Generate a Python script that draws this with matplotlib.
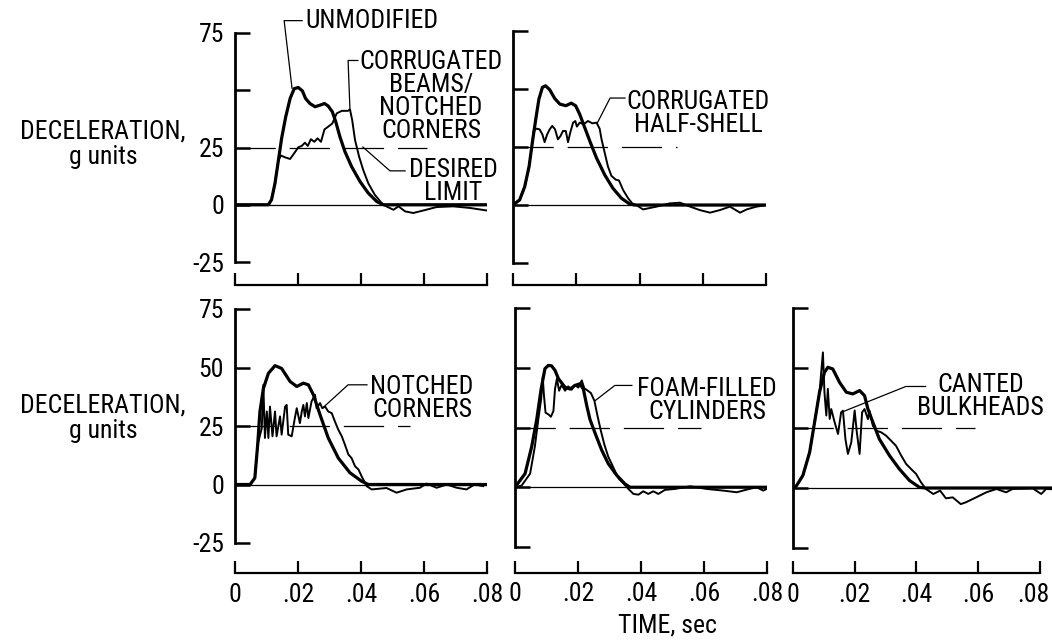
import matplotlib
matplotlib.use('Agg')
import matplotlib.pyplot as plt
from matplotlib.transforms import ScaledTranslation

plt.rcParams['font.family'] = ['Roboto Condensed', 'DejaVu Sans Condensed', 'Liberation Sans Narrow', 'DejaVu Sans']
plt.rcParams['lines.scale_dashes'] = False

FONT_SIZE = 18.5

DESIRED_LIMIT = 25
Y_TICKS = [-25, 0, 25, 50, 75]
TOP_Y_LABELS = ['-25', '0', '25', '', '75']
BOTTOM_Y_LABELS = ['-25', '0', '25', '50', '75']
X_TICKS = [0, 0.02, 0.04, 0.06, 0.08]
X_TICK_LABELS = ['0', '.02', '.04', '.06', '.08']

# panel 1: unmodified vs corrugated beams / notched corners
p1_unmod_t = [0, .0106, .0116, .0127, .0138, .0148, .0161, .0175, .0188, .0201, .0214, .0224, .0238, .0254,
              .027, .0284, .0296, .0309, .032, .0333, .0349, .037, .0397, .0423, .045, .0471, .08]
p1_unmod_g = [0, 0, 2.2, 9.4, 19.6, 29, 38.4, 46.4, 50.7, 51.2, 49.7, 46.4, 44.2, 42.8,
              43.5, 44.2, 43.1, 40.6, 36.2, 29.7, 23.2, 16.7, 10.1, 5.1, 1.4, 0, 0]
p1_mod_t = [0, .0106, .0116, .0127, .0138, .0146, .0159, .0175, .0188, .0201, .0212, .0222, .0231, .0241,
            .0252, .0262, .0273, .0284, .0296, .0309, .0323, .0339, .0358, .0365, .0372, .0381, .0394,
            .0407, .0423, .0444, .0466, .0476, .0503, .0519, .054, .0566, .0598, .064, .0693, .0746, .0799]
p1_mod_g = [0, 0, 2.2, 9.4, 19.6, 21.5, 20.7, 20.0, 22.5, 25.1, 25.7, 27.1, 25.7, 28.6,
            27.5, 29, 27.5, 32.9, 34.1, 35.5, 39.9, 41, 41, 41.6, 37, 28.3, 21,
            15.2, 9.4, 4.3, 0.7, -0.4, -2.2, -0.7, -2.9, -3.6, -2.5, -1, -0.7, -1.4, -2.5]

# panel 2: corrugated half-shell
p2_unmod_t = [0, .0021, .0037, .0051, .0061, .0072, .0082, .0093, .0103, .0116, .0132, .0148, .0167,
              .0184, .0198, .0211, .0227, .0245, .0264, .029, .0316, .0343, .0369, .0385, .08]
p2_unmod_g = [0, 2.2, 7.9, 16.7, 26.8, 37, 45.7, 50.7, 51.4, 49.7, 45.9, 43.5, 42.8,
              43.9, 42.8, 39.1, 33.3, 26.8, 20.3, 13, 7.2, 2.9, 0.4, 0, 0]
p2_mod_t = [0, .0021, .0037, .0051, .0061, .0065, .0074, .0084, .0093, .01, .0108, .0116, .0124, .0133,
            .0142, .015, .0158, .0167, .0174, .0181, .019, .0197, .0202, .0211, .0223, .0237, .0251,
            .0264, .0274, .028, .029, .03, .0311, .0325, .0335, .0348, .0364, .0377, .039, .0411,
            .0454, .0496, .0528, .056, .0591, .0623, .0654, .0686, .0718, .0739, .077, .0802]
p2_mod_g = [0, 2.2, 7.9, 16.7, 26.8, 31.9, 32.9, 32.6, 30.4, 27.1, 30.4, 32.6, 34.1, 32.6,
            28.3, 29.7, 31.9, 31.9, 27.1, 31.2, 35.5, 36.2, 33.8, 35.5, 34.8, 36.2, 35.2,
            35.5, 32.9, 28.3, 22.5, 16.7, 12.6, 10.9, 10.6, 6.5, 2.9, 0.7, 0, -1.9,
            -0.7, 0.7, 1.0, -0.7, -2.2, -3.3, -2.2, -0.7, -3.3, -1.9, -0.7, 0]

# panel 3: notched corners
p3_unmod_t = [0, .0048, .0063, .0072, .0079, .009, .0106, .0127, .0148, .0175, .0196, .0217, .0233,
              .0249, .027, .0296, .0328, .0365, .0402, .0423, .08]
p3_unmod_g = [0, 0, 2.8, 17, 31, 41, 47.5, 50.8, 49.6, 44, 41.9, 43.3, 42.6,
              38.3, 29.8, 19.9, 11.3, 5, 1.4, 0, 0]
p3_mod_t = [0, .0048, .0063, .0072, .0085, .009, .0095, .0101, .0106, .0111, .0119, .0127, .0132, .0143,
            .0148, .0159, .0164, .0169, .018, .019, .0196, .0206, .0212, .0217, .0222, .0228, .0233,
            .0243, .0254, .0259, .027, .0277, .0286, .0296, .0307, .0317, .0328, .0339, .0349, .036,
            .037, .0381, .0392, .0402, .0418, .0434, .0481, .0513, .0545, .0587, .0608, .064, .0672,
            .0704, .0735, .076, .0788]
p3_mod_g = [0, 0, 2.8, 17, 24.1, 42.6, 19.9, 31.2, 19.9, 33.3, 20.6, 31.2, 20.6, 29.1,
            21.3, 33.3, 34, 21.3, 20.6, 28.4, 32.6, 26.2, 31.2, 34, 29.1, 34.8, 28.4,
            35.5, 38.3, 32.6, 34.8, 32.6, 33.3, 31.2, 30.5, 27, 23.4, 20.6, 17, 12.8,
            11.3, 7.8, 6.4, 3.5, -0.7, -2.1, -1.5, -3.5, -2.1, -1.4, 0.4, -1.4, 0,
            -1.4, -2.1, 0, -0.7]

# panel 4: foam-filled cylinders
p4_unmod_t = [0, .0032, .0053, .0069, .0083, .0095, .0106, .0116, .0127, .0138, .0159, .0175, .019,
              .0206, .0217, .0228, .0238, .0254, .0275, .0296, .0323, .0349, .0365, .08]
p4_unmod_g = [0, 5.7, 17, 28.4, 41.1, 49.6, 51, 50.8, 48.9, 45.4, 41.8, 41.1, 42.6,
              43.3, 41.1, 34, 28.4, 22.7, 15.6, 9.9, 5, 1.4, 0, 0]
p4_mod_t = [0, .0021, .0048, .0063, .0074, .0083, .0088, .0092, .0097, .0106, .0114, .0122, .0127, .0133,
            .014, .0148, .0159, .0169, .018, .019, .0201, .0212, .022, .0231, .0241, .0252, .0262,
            .0273, .0284, .0296, .0309, .032, .033, .0344, .036, .0376, .0392, .0407, .0423, .0439,
            .0455, .0476, .0508, .0556, .0608, .0661, .0704, .0735, .0767, .0788, .0799]
p4_mod_g = [0, 0.7, 5.7, 17, 28.4, 36.9, 46.1, 38.3, 31.2, 30.5, 29.5, 31.9, 41.1, 45.4,
            40.4, 42.8, 40.4, 42.2, 40.8, 42.8, 41.7, 44.7, 41.4, 40.4, 39.4, 36.2, 29.8,
            23.4, 17.7, 12.8, 9.2, 6, 3.5, 1.7, -0.7, -2.8, -3.1, -1.7, -2.8, -1.7,
            -2.8, -1.1, -0.7, 0.4, -0.7, -1.4, -2.1, -1, 0, -1.4, -0.7]

# panel 5: canted bulkheads
p5_unmod_t = [0, .0011, .0032, .0054, .007, .0086, .0102, .0113, .0129, .0151, .0173, .0194, .0216,
              .0232, .0243, .0259, .028, .0313, .0345, .0378, .041, .0431, .084]
p5_unmod_g = [0, 0.9, 5.2, 14.9, 27.4, 39.9, 48.2, 50.3, 49.6, 44, 39.9, 39.2, 40.6,
              38.5, 32.9, 27.4, 20.4, 13.5, 7.9, 3.1, 0.3, 0, 0]
p5_mod_t = [0, .0011, .0032, .0054, .007, .0086, .0097, .0102, .0108, .0113, .0119, .0124, .0135, .0146,
            .0156, .0162, .017, .0178, .0189, .02, .0207, .0216, .0224, .0232, .0243, .0248, .0259,
            .027, .0286, .0302, .0318, .0334, .0351, .0367, .0383, .0399, .0415, .0431, .0455, .0477,
            .0496, .0518, .0544, .056, .0594, .0627, .066, .0691, .0712, .0777, .0805, .0821, .084]
p5_mod_g = [0, 0.9, 5.2, 14.9, 27.4, 39.9, 56.5, 39.9, 30.2, 41.3, 28.8, 32.9, 27.4, 22.5,
            31.5, 32.2, 20.4, 14.2, 19, 32.3, 23.2, 14.2, 31.5, 32.9, 28.7, 32.2, 26,
            23.9, 23.2, 21.8, 19.7, 17.6, 13.5, 10, 7.9, 5.9, 2.4, -0.4, -2.5, -1.1,
            -4.3, -3.9, -6.7, -6, -3.9, -1.8, -0.4, -1.8, -0.4, -0.1, -2.5, -0.4, -0.5]

W, H = 1052, 641


def px_box(left, top, bottom, right):
    """pixel box (top-left origin) -> figure fraction rect"""
    return [left / W, 1 - bottom / H, (right - left) / W, (bottom - top) / H]


# layout: rect in px, xmax, x-axis offset (pt), dashed limit end, which labels
PANELS = [
    dict(rect=px_box(235, 33, 262, 487), xmax=0.08, off=16.5, lim_end=0.061, ylab=TOP_Y_LABELS, xlab=False,
         unmod=(p1_unmod_t, p1_unmod_g), mod=(p1_mod_t, p1_mod_g)),
    dict(rect=px_box(513, 31, 263, 766), xmax=0.08, off=16, lim_end=0.052, ylab=None, xlab=False,
         unmod=(p2_unmod_t, p2_unmod_g), mod=(p2_mod_t, p2_mod_g)),
    dict(rect=px_box(235, 309, 543, 487), xmax=0.08, off=21.5, lim_end=0.0556, ylab=BOTTOM_Y_LABELS, xlab=True,
         unmod=(p3_unmod_t, p3_unmod_g), mod=(p3_mod_t, p3_mod_g)),
    dict(rect=px_box(515, 308, 547, 767), xmax=0.08, off=18.5, lim_end=0.059, ylab=None, xlab=True,
         unmod=(p4_unmod_t, p4_unmod_g), mod=(p4_mod_t, p4_mod_g)),
    dict(rect=px_box(793, 308, 548, 1052), xmax=0.084, off=18, lim_end=0.059, ylab=None, xlab=True,
         unmod=(p5_unmod_t, p5_unmod_g), mod=(p5_mod_t, p5_mod_g)),
]

# annotation: text, text position (data), alignment, leader polyline (data)
NOTES = [
    [('UNMODIFIED', (0.0222, 80.4), 'left', [(0.0213, 80.4), (0.0156, 80.4), (0.0181, 50.9)]),
     ('CORRUGATED\nBEAMS/\nNOTCHED\nCORNERS', (0.0622, 47.4), 'center',
      [(0.039, 63), (0.0359, 63), (0.0365, 41.3)]),
     ('DESIRED\nLIMIT', (0.0692, 10), 'center', [(0.054, 14.8), (0.0492, 14.8), (0.0406, 25.2)])],
    [('CORRUGATED\nHALF-SHELL', (0.0585, 39.6), 'center', [(0.0354, 46.1), (0.0307, 46.1), (0.0266, 35.2)])],
    [('NOTCHED\nCORNERS', (0.0594, 36.8), 'center', [(0.0419, 42.6), (0.0359, 42.6), (0.0279, 32.8)])],
    [('FOAM-FILLED\nCYLINDERS', (0.061, 36.2), 'center', [(0.0371, 42.6), (0.0317, 42.6), (0.0254, 36.2)])],
    [('CANTED\nBULKHEADS', (0.0608, 38.1), 'center', [(0.043, 42.3), (0.0366, 42.3), (0.0162, 31.8)])],
]


def style_axis(ax, p):
    ax.set_xlim(0, p['xmax'])
    ax.set_ylim(-25, 75)
    ax.patch.set_visible(False)
    for side in ('top', 'right'):
        ax.spines[side].set_visible(False)
    ax.spines['left'].set_linewidth(2.0)
    ax.spines['bottom'].set_linewidth(1.6)
    ax.spines['bottom'].set_position(('outward', p['off']))
    ax.spines['bottom'].set_bounds(0, 0.08)
    ax.set_yticks(Y_TICKS)
    ax.set_xticks(X_TICKS)
    ax.tick_params(axis='y', direction='in', length=11, width=1.8, pad=8, labelsize=FONT_SIZE)
    ax.tick_params(axis='x', direction='in', length=9, width=1.6, pad=7, labelsize=FONT_SIZE)
    if p['ylab'] is None:
        ax.set_yticklabels([])
    else:
        ax.set_yticklabels(p['ylab'])
    if p['xlab']:
        ax.set_xticklabels(X_TICK_LABELS)
    else:
        ax.set_xticklabels([])


fig = plt.figure(figsize=(W / 100, H / 100), dpi=100)

axes = []
for p, notes in zip(PANELS, NOTES):
    assert len(p['unmod'][0]) == len(p['unmod'][1])
    assert len(p['mod'][0]) == len(p['mod'][1])
    ax = fig.add_axes(p['rect'])
    style_axis(ax, p)
    ax.axhline(0, color='black', lw=0.9)
    ax.plot([0, p['lim_end']], [DESIRED_LIMIT, DESIRED_LIMIT], color='black', lw=0.9, ls=(0, (29, 10)))
    ax.plot(*p['unmod'], color='black', lw=2.3, solid_joinstyle='round')
    ax.plot(*p['mod'], color='black', lw=1.4, solid_joinstyle='round')
    for txt, pos, ha, leader in notes:
        ax.text(pos[0], pos[1], txt, ha=ha, va='center', fontsize=FONT_SIZE, linespacing=0.95,
                multialignment='center')
        xs, ys = zip(*leader)
        ax.plot(xs, ys, color='black', lw=0.9, clip_on=False)
    axes.append(ax)

# last tick label on the right edge sits a little left of its tick
last = axes[-1].get_xticklabels()[-1]
last.set_transform(last.get_transform() + ScaledTranslation(-6 / 100, 0, fig.dpi_scale_trans))

for ycen in (144.5, 418.5):
    fig.text(103 / W, 1 - ycen / H, 'DECELERATION,\ng units', ha='center', va='center',
             fontsize=FONT_SIZE, linespacing=1.1, multialignment='center')

fig.text(667 / W, 1 - 625 / H, 'TIME, sec', ha='center', va='center', fontsize=FONT_SIZE)

fig.savefig('out.png', dpi=100)
